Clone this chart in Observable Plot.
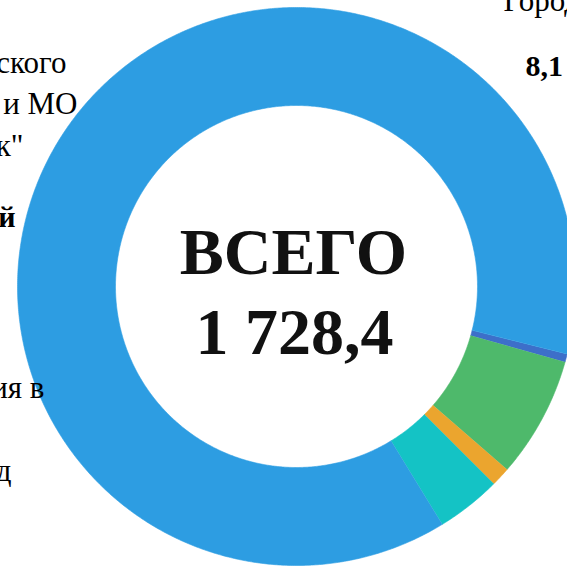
<!DOCTYPE html>
<html><head><meta charset="utf-8">
<script src="https://cdn.jsdelivr.net/npm/d3@7"></script>
<script src="https://cdn.jsdelivr.net/npm/@observablehq/plot@0.6"></script>
<style>html,body{margin:0;padding:0;background:#fff;overflow:hidden}</style>
</head><body><div id="chart"></div>
<script>
// ---- data ----
const categories = ["Городской бюджет", "Сегмент 2", "Сегмент 3", "Сегмент 4", "Сегмент 5"];
const values = [8.1, 121.5, 19.2, 64.8, 1514.8];
const colors = ["#3D6FC9", "#4EB96B", "#EBA52E", "#14C3C5", "#2D9DE2"];
const totalTitle = "ВСЕГО";
const totalValue = "1 728,4";
const labelTexts = ["Городской бюджет", "8,1", "ского", "и МО", "к\"", "й", "ия в", "д"];
const labelBold  = [false, true, false, false, false, true, false, false];

// ---- layout (pixels) ----
const W = 567, H = 566;
const CX = 296, CY = 286, R_OUT = 279, R_IN = 181;
const START_DEG = 104;
const labelPos = [
  {px: 503, py: 10, anchor: "start"},
  {px: 525, py: 75, anchor: "start"},
  {px: 66, py: 72, anchor: "end"},
  {px: 77, py: 113, anchor: "end"},
  {px: 23, py: 155, anchor: "end"},
  {px: 15, py: 226, anchor: "end"},
  {px: 44, py: 397, anchor: "end"},
  {px: 11, py: 480, anchor: "end"}
];

const data = categories.map((name, i) => ({name, value: values[i]}));
const a0 = START_DEG * Math.PI / 180;
const arcs = d3.pie().sort(null).value(d => d.value).startAngle(a0).endAngle(a0 + 2 * Math.PI)(data);

const pts = [];
for (const arc of arcs) {
  const n = Math.max(2, Math.ceil((arc.endAngle - arc.startAngle) / (0.4 * Math.PI / 180)));
  for (let k = 0; k <= n; k++) {
    const a = arc.startAngle + (arc.endAngle - arc.startAngle) * k / n;
    pts.push({name: arc.data.name, x: R_OUT * Math.sin(a), y: R_OUT * Math.cos(a)});
  }
  for (let k = n; k >= 0; k--) {
    const a = arc.startAngle + (arc.endAngle - arc.startAngle) * k / n;
    pts.push({name: arc.data.name, x: R_IN * Math.sin(a), y: R_IN * Math.cos(a)});
  }
}

const labels = labelTexts.map((t, i) => ({
  text: t, bold: labelBold[i],
  x: labelPos[i].px - CX, y: CY - labelPos[i].py, anchor: labelPos[i].anchor
}));

const font = "'Liberation Serif', 'Times New Roman', serif";
const textMark = (subset, anchor, bold) => Plot.text(subset, {
  x: "x", y: "y", text: "text", textAnchor: anchor, lineAnchor: "bottom",
  fontSize: bold ? 30 : 31, fontWeight: bold ? "bold" : "normal",
  fontFamily: font, fill: "#000"
});
const groups = [];
for (const anchor of ["start", "end"]) for (const bold of [false, true]) {
  const s = labels.filter(d => d.anchor === anchor && d.bold === bold);
  if (s.length) groups.push(textMark(s, anchor, bold));
}

const chart = Plot.plot({
  width: W, height: H,
  marginTop: 0, marginRight: 0, marginBottom: 0, marginLeft: 0,
  x: {domain: [-CX, W - CX], range: [0, W], axis: null},
  y: {domain: [CY - H, CY], range: [H, 0], axis: null},
  color: {domain: categories, range: colors},
  style: {background: "#fff", overflow: "hidden", fontFamily: font},
  marks: [
    Plot.line(pts, {x: "x", y: "y", z: "name", fill: "name", stroke: "name", strokeWidth: 0.6, curve: "linear"}),
    Plot.text([{t: totalTitle, x: -3, y: CY - 273}], {x: "x", y: "y", text: "t", lineAnchor: "bottom", fontSize: 66, fontWeight: "bold", fontFamily: font, fill: "#111"}),
    Plot.text([{t: totalValue, x: -2, y: CY - 353}], {x: "x", y: "y", text: "t", lineAnchor: "bottom", fontSize: 66, fontWeight: "bold", fontFamily: font, fill: "#111"}),
    ...groups
  ]
});
document.getElementById("chart").appendChild(chart);
</script>
</body></html>
